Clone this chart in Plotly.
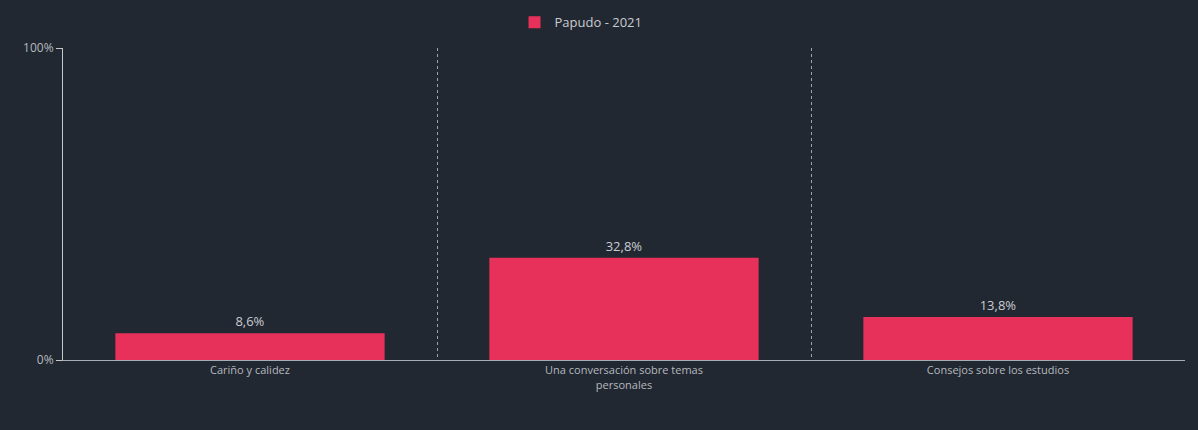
import plotly.graph_objects as go

categories = ["Cariño y calidez", "Una conversación sobre temas<br>personales", "Consejos sobre los estudios"]
values = [8.6, 32.8, 13.8]
series_name = "Papudo - 2021"
ytick_vals = [0, 100]
ytick_text = ["0%", "100%"]

labels = [f"{v:.1f}%".replace(".", ",") for v in values]

bg = "#222831"
txt = "#c9ccd1"

fig = go.Figure()
fig.add_trace(go.Bar(
    x=categories, y=values, name=series_name,
    marker=dict(color="#e8315a", line=dict(width=0)),
    text=labels, textposition="outside", cliponaxis=False,
    textfont=dict(color=txt, size=13, family="Open Sans"),
    showlegend=True,
))

fig.update_layout(
    width=1198, height=430,
    paper_bgcolor=bg, plot_bgcolor=bg,
    margin=dict(l=63, r=13, t=48, b=70, autoexpand=False),
    bargap=0.28,
    font=dict(family="Open Sans", color=txt, size=11),
    legend=dict(orientation="h", xref="container", yref="container",
                x=0.485, xanchor="center", y=0.948, yanchor="middle",
                font=dict(size=13, color=txt), itemwidth=30, bgcolor="rgba(0,0,0,0)"),
    xaxis=dict(
        range=[-0.5, 2.5], tickson="boundaries", showgrid=True,
        gridcolor="rgba(210,215,220,0.7)", griddash="dot", gridwidth=1,
        showline=True, linecolor="#a9adb3", linewidth=1,
        ticks="", tickfont=dict(size=11, color="#b5b9bf"), fixedrange=True,
    ),
    yaxis=dict(
        range=[0, 100], tickvals=ytick_vals, ticktext=ytick_text,
        showgrid=False, zeroline=False, showline=True, linecolor="#c4c8cd", linewidth=1,
        ticks="outside", ticklen=6, tickcolor="#c4c8cd",
        tickfont=dict(size=12, color="#b5b9bf"),
    ),
)

fig.write_html(
    "out.html",
    config={"displayModeBar": False},
    post_script="document.body.style.margin='0';document.body.style.background='#222831';",
)
